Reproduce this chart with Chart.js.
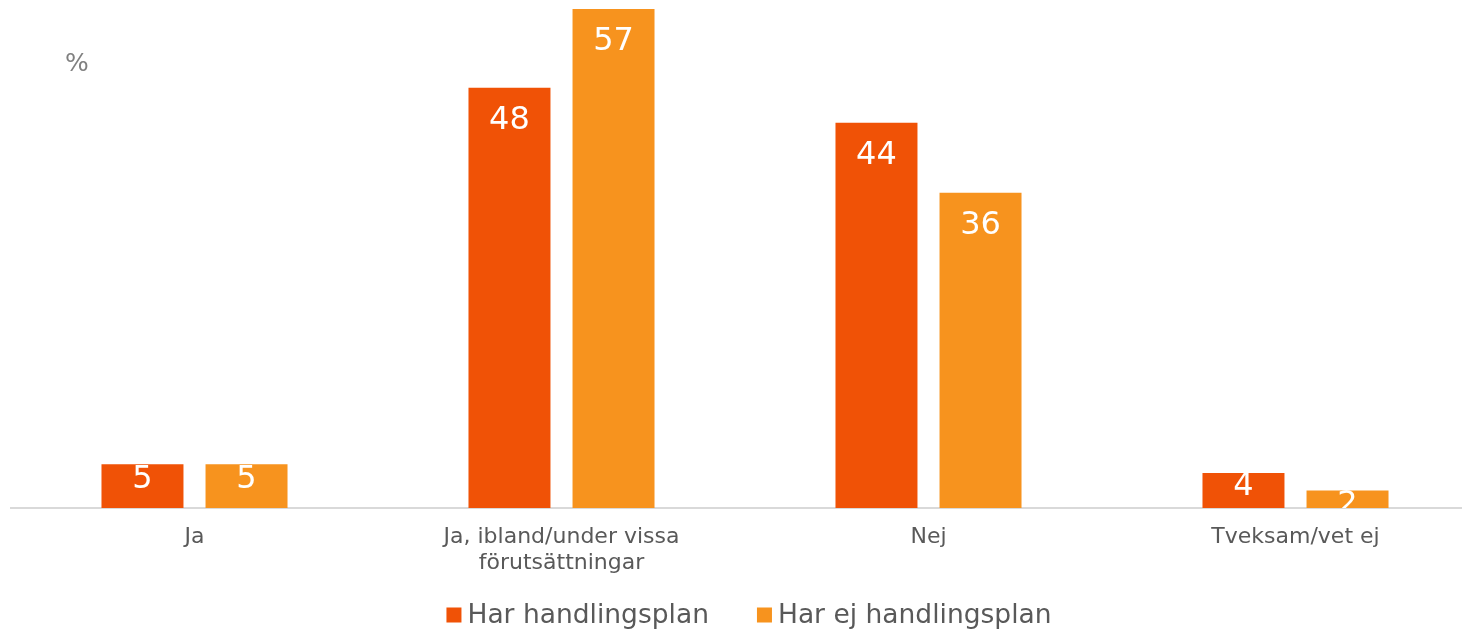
<!DOCTYPE html>
<html lang="sv">
<head>
<meta charset="utf-8">
<title>Handlingsplan</title>
<script src="https://cdn.jsdelivr.net/npm/chart.js@4"></script>
<style>
html,body{margin:0;padding:0;background:#fff;overflow:hidden;}
#wrap{position:relative;width:1479px;height:632px;}
</style>
</head>
<body>
<div id="wrap"><canvas id="grafico"></canvas></div>
<script>
/* DATA */
const kategorier = [['Ja'], ['Ja, ibland/under vissa', 'förutsättningar'], ['Nej'], ['Tveksam/vet ej']];
const harPlan = [5, 48, 44, 4];
const harEjPlan = [5, 57, 36, 2];
const serieNamn = ['Har handlingsplan', 'Har ej handlingsplan'];
const farger = ['#F05206', '#F7931E'];

const FONT = '"DejaVu Sans", Verdana, sans-serif';

/* värden inne i staplarna */
const stapelEtiketter = {
  id: 'stapelEtiketter',
  afterDatasetsDraw(chart) {
    const {ctx, chartArea} = chart;
    ctx.save();
    ctx.beginPath();
    ctx.rect(chartArea.left, chartArea.top, chartArea.right - chartArea.left, chartArea.bottom - chartArea.top);
    ctx.clip();
    ctx.fillStyle = '#ffffff';
    ctx.font = '32px ' + FONT;
    ctx.textAlign = 'center';
    ctx.textBaseline = 'middle';
    chart.data.datasets.forEach((ds, i) => {
      chart.getDatasetMeta(i).data.forEach((bar, j) => {
        const h = bar.base - bar.y;
        const off = Math.min(33, Math.max(14, h - 28));
        ctx.fillText(String(ds.data[j]), bar.x, bar.y + off);
      });
    });
    ctx.restore();
  }
};

/* procenttecken + förklaring längst ner */
const extraText = {
  id: 'extraText',
  afterDraw(chart) {
    const {ctx, chartArea} = chart;
    ctx.save();
    ctx.fillStyle = '#808080';
    ctx.font = '25px ' + FONT;
    ctx.textAlign = 'left';
    ctx.textBaseline = 'middle';
    ctx.fillText('%', 65, 64);

    ctx.font = '26.5px ' + FONT;
    const box = 15, gapText = 6, gapItem = 48;
    const widths = chart.data.datasets.map(ds => ctx.measureText(ds.label).width);
    let total = 0;
    widths.forEach((w, i) => { total += box + gapText + w + (i > 0 ? gapItem : 0); });
    let x = (chartArea.left + chartArea.right) / 2 + 4 - total / 2;
    const y = 615;
    chart.data.datasets.forEach((ds, i) => {
      ctx.fillStyle = ds.backgroundColor;
      ctx.fillRect(x, y - box / 2, box, box);
      x += box + gapText;
      ctx.fillStyle = '#595959';
      ctx.fillText(ds.label, x, y + 1);
      x += widths[i] + gapItem;
    });
    ctx.restore();
  }
};

new Chart(document.getElementById('grafico'), {
  type: 'bar',
  data: {
    labels: kategorier,
    datasets: [
      {label: serieNamn[0], data: harPlan, backgroundColor: farger[0]},
      {label: serieNamn[1], data: harEjPlan, backgroundColor: farger[1]}
    ]
  },
  options: {
    responsive: true,
    maintainAspectRatio: false,
    animation: false,
    layout: {padding: {left: 11, right: 0, top: 9, bottom: 48}},
    datasets: {bar: {categoryPercentage: 0.567, barPercentage: 0.788}},
    plugins: {legend: {display: false}, tooltip: {enabled: false}},
    scales: {
      x: {
        grid: {display: false},
        border: {display: true, color: '#d9d9d9', width: 2},
        ticks: {color: '#595959', font: {family: FONT, size: 22, lineHeight: 1.18}, padding: 8, maxRotation: 0, autoSkip: false}
      },
      y: {display: false, min: 0, max: 57}
    }
  },
  plugins: [stapelEtiketter, extraText]
});
</script>
</body>
</html>
